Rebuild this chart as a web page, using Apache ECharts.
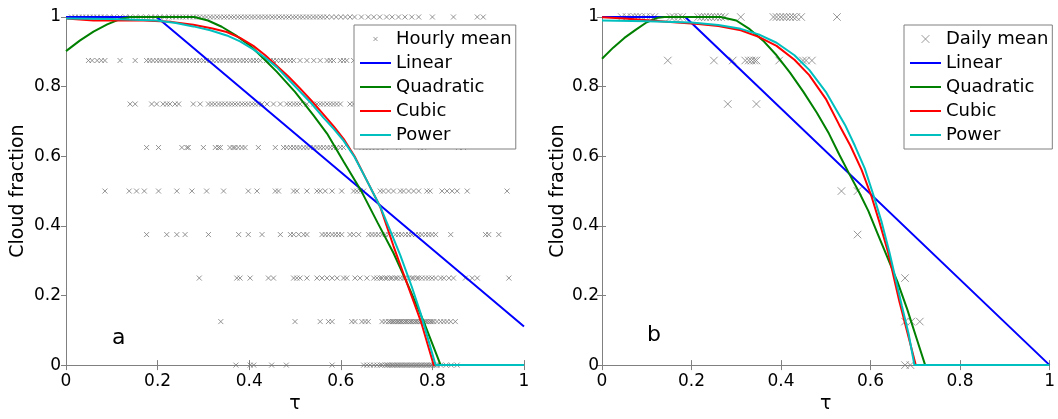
<!DOCTYPE html>
<html>
<head>
<meta charset="utf-8">
<script src="https://cdn.jsdelivr.net/npm/echarts@6/dist/echarts.min.js"></script>
<style>html,body{margin:0;padding:0;background:#fff}#c{width:1058px;height:419px}</style>
</head>
<body>
<div id="c"></div>
<script>
// ---------- data ----------
var tickValues = [0, 0.2, 0.4, 0.6, 0.8, 1];
var cloudLevels = [1, 0.875, 0.75, 0.625, 0.5, 0.375, 0.25, 0.125, 0];

// Panel a: hourly mean, tau positions for each cloud-fraction level
var hourlyTau = [
  [0.012,0.02,0.028,0.036,0.044,0.052,0.06,0.068,0.076,0.084,0.095,0.105,0.118,0.13,0.14,0.152,0.163,0.175,0.186,0.195,0.205,0.215,0.225,0.232,0.24,0.248,0.255,0.262,0.27,0.278,0.285,0.292,0.3,0.307,0.315,0.322,0.33,0.337,0.345,0.352,0.36,0.367,0.375,0.382,0.39,0.397,0.405,0.412,0.42,0.427,0.435,0.442,0.45,0.457,0.465,0.472,0.48,0.487,0.495,0.502,0.51,0.517,0.525,0.532,0.54,0.547,0.555,0.562,0.57,0.58,0.59,0.6,0.61,0.62,0.63,0.645,0.66,0.672,0.685,0.7,0.712,0.726,0.74,0.755,0.77,0.8,0.846,0.898,0.911],
  [0.049,0.057,0.068,0.077,0.085,0.118,0.151,0.176,0.183,0.19,0.198,0.205,0.212,0.22,0.227,0.234,0.242,0.249,0.256,0.263,0.27,0.278,0.285,0.292,0.3,0.307,0.314,0.321,0.329,0.336,0.343,0.351,0.358,0.365,0.372,0.38,0.387,0.394,0.402,0.409,0.416,0.424,0.438,0.446,0.453,0.46,0.468,0.475,0.482,0.49,0.497,0.511,0.526,0.541,0.555,0.57,0.577,0.584,0.599,0.606,0.613,0.628,0.66,0.7,0.75],
  [0.14,0.151,0.187,0.198,0.212,0.22,0.227,0.238,0.246,0.278,0.293,0.311,0.318,0.325,0.333,0.34,0.347,0.355,0.362,0.369,0.376,0.384,0.391,0.398,0.406,0.413,0.42,0.428,0.439,0.453,0.468,0.482,0.489,0.497,0.504,0.511,0.526,0.541,0.548,0.555,0.562,0.57,0.577,0.584,0.591,0.599,0.62,0.628,0.635,0.66,0.7,0.74,0.78],
  [0.176,0.202,0.253,0.264,0.267,0.3,0.326,0.333,0.337,0.358,0.365,0.369,0.376,0.384,0.391,0.42,0.457,0.475,0.482,0.49,0.497,0.504,0.511,0.519,0.526,0.533,0.541,0.548,0.555,0.562,0.57,0.577,0.584,0.591,0.599,0.606,0.646,0.653,0.66,0.668,0.675,0.686,0.697,0.726,0.774,0.781,0.857,0.868],
  [0.085,0.138,0.154,0.171,0.202,0.242,0.275,0.307,0.344,0.398,0.417,0.457,0.464,0.497,0.504,0.526,0.548,0.555,0.566,0.581,0.602,0.628,0.635,0.642,0.65,0.686,0.693,0.704,0.715,0.73,0.737,0.748,0.759,0.77,0.788,0.795,0.821,0.832,0.843,0.854,0.876,0.963],
  [0.176,0.22,0.242,0.26,0.311,0.377,0.398,0.428,0.468,0.49,0.497,0.508,0.519,0.526,0.559,0.566,0.573,0.581,0.588,0.595,0.602,0.62,0.628,0.639,0.661,0.668,0.675,0.682,0.69,0.697,0.704,0.711,0.719,0.726,0.733,0.741,0.748,0.755,0.763,0.77,0.777,0.785,0.792,0.799,0.807,0.84,0.916,0.923,0.945],
  [0.291,0.373,0.38,0.402,0.442,0.453,0.497,0.504,0.511,0.526,0.548,0.559,0.57,0.581,0.592,0.606,0.613,0.631,0.642,0.657,0.672,0.679,0.686,0.69,0.697,0.701,0.708,0.712,0.719,0.723,0.73,0.737,0.741,0.748,0.755,0.759,0.766,0.77,0.777,0.785,0.792,0.799,0.807,0.818,0.825,0.836,0.846,0.872,0.887,0.898,0.967],
  [0.338,0.5,0.555,0.573,0.581,0.624,0.631,0.646,0.653,0.66,0.69,0.697,0.704,0.708,0.712,0.715,0.719,0.723,0.726,0.73,0.733,0.737,0.741,0.744,0.748,0.752,0.755,0.759,0.763,0.766,0.77,0.774,0.777,0.781,0.785,0.788,0.792,0.796,0.799,0.803,0.81,0.818,0.825,0.832,0.84,0.85],
  [0.371,0.402,0.41,0.449,0.481,0.581,0.65,0.657,0.664,0.672,0.679,0.686,0.69,0.697,0.701,0.704,0.708,0.712,0.715,0.719,0.723,0.726,0.73,0.733,0.737,0.741,0.744,0.748,0.752,0.755,0.759,0.763,0.766,0.77,0.774,0.777,0.781,0.785,0.788,0.792,0.796,0.799,0.803,0.807,0.81,0.818,0.83,0.841,0.854]
];

// Panel b: daily mean, tau positions for each level
var dailyTau = [
  [0.044,0.055,0.066,0.073,0.08,0.088,0.098,0.109,0.117,0.153,0.16,0.171,0.179,0.215,0.222,0.23,0.237,0.244,0.252,0.259,0.266,0.274,0.31,0.383,0.39,0.398,0.405,0.412,0.42,0.427,0.434,0.445,0.525],
  [0.147,0.25,0.292,0.32,0.328,0.334,0.34,0.345,0.396,0.449,0.456,0.469],
  [0.281,0.345],
  [],
  [0.535,0.571],
  [0.571],
  [0.677],
  [0.677,0.691,0.71],
  [0.677,0.689]
];

// fitted curves, panel a
var aLinear    = [[0,1],[0.198,1],[1,0.111]];
var aQuadratic = [[0,0.902],[0.03,0.932],[0.06,0.958],[0.09,0.979],[0.118,0.994],[0.14,1],[0.28,1],[0.31,0.99],[0.34,0.972],[0.37,0.948],[0.4,0.92],[0.424,0.89],[0.46,0.843],[0.5,0.785],[0.54,0.718],[0.57,0.665],[0.606,0.585],[0.646,0.497],[0.68,0.41],[0.715,0.322],[0.745,0.235],[0.781,0.125],[0.818,0],[1,0]];
var aCubic     = [[0,0.996],[0.06,0.99],[0.17,0.99],[0.23,0.986],[0.278,0.978],[0.32,0.967],[0.351,0.957],[0.38,0.94],[0.409,0.917],[0.435,0.89],[0.46,0.86],[0.485,0.83],[0.511,0.795],[0.537,0.758],[0.562,0.72],[0.585,0.685],[0.606,0.65],[0.63,0.6],[0.655,0.535],[0.686,0.455],[0.715,0.342],[0.745,0.233],[0.775,0.125],[0.803,0],[1,0]];
var aPower     = [[0,0.996],[0.1,0.994],[0.198,0.99],[0.24,0.983],[0.278,0.973],[0.315,0.962],[0.351,0.947],[0.38,0.93],[0.409,0.907],[0.435,0.883],[0.46,0.856],[0.485,0.822],[0.511,0.786],[0.537,0.75],[0.562,0.711],[0.585,0.678],[0.606,0.645],[0.63,0.598],[0.655,0.535],[0.686,0.455],[0.71,0.38],[0.73,0.315],[0.755,0.225],[0.774,0.15],[0.807,0],[1,0]];

// fitted curves, panel b
var bLinear    = [[0,1],[0.186,1],[1,0]];
var bQuadratic = [[0,0.88],[0.025,0.912],[0.05,0.94],[0.075,0.963],[0.1,0.985],[0.125,0.998],[0.14,1],[0.265,1],[0.3,0.99],[0.33,0.965],[0.36,0.932],[0.39,0.89],[0.42,0.84],[0.45,0.785],[0.48,0.725],[0.507,0.665],[0.53,0.605],[0.551,0.553],[0.575,0.495],[0.595,0.443],[0.615,0.38],[0.631,0.33],[0.66,0.24],[0.682,0.16],[0.702,0.08],[0.722,0],[1,0]];
var bCubic     = [[0,0.999],[0.05,0.996],[0.109,0.99],[0.16,0.985],[0.215,0.98],[0.26,0.974],[0.31,0.962],[0.35,0.943],[0.39,0.917],[0.43,0.877],[0.463,0.833],[0.5,0.765],[0.53,0.69],[0.555,0.63],[0.58,0.561],[0.602,0.485],[0.62,0.41],[0.639,0.325],[0.664,0.185],[0.685,0.08],[0.701,0],[1,0]];
var bPower     = [[0,0.99],[0.1,0.988],[0.2,0.984],[0.26,0.977],[0.31,0.966],[0.35,0.95],[0.39,0.926],[0.43,0.89],[0.463,0.848],[0.5,0.785],[0.543,0.69],[0.565,0.63],[0.587,0.565],[0.606,0.49],[0.625,0.41],[0.642,0.325],[0.67,0.17],[0.685,0.09],[0.698,0],[1,0]];

var seriesNames = ['Linear', 'Quadratic', 'Cubic', 'Power'];
var panelLabels = ['a', 'b'];

// ---------- build ----------
function toPairs(tauLists) {
  var out = [];
  tauLists.forEach(function (list, i) {
    list.forEach(function (t) { out.push([t, cloudLevels[i]]); });
  });
  return out;
}

var FONT = 'DejaVu Sans';
var AXC = '#808080';
var crossPath = 'path://M0,0L10,10M10,0L0,10';
var lineIcon = 'path://M0,0L31,0L31,2L0,2Z';
var colors = {Linear: '#0000ff', Quadratic: '#008000', Cubic: '#ff0000', Power: '#00bfbf'};

function xAxes(gi) {
  return [{
    gridIndex: gi, type: 'value', min: 0, max: 1, interval: 0.2,
    name: 'τ', nameLocation: 'middle', nameGap: 26,
    nameTextStyle: {fontFamily: FONT, fontSize: 19, color: '#000'},
    axisLine: {lineStyle: {color: AXC, width: 1}},
    axisTick: {inside: true, length: 5, lineStyle: {color: AXC}},
    axisLabel: {fontFamily: FONT, fontSize: 17, color: '#000', margin: 8},
    splitLine: {show: false}
  }, {
    gridIndex: gi, type: 'value', min: 0, max: 1, interval: 0.2, position: 'top',
    axisLine: {lineStyle: {color: AXC, width: 1}},
    axisTick: {inside: true, length: 5, lineStyle: {color: AXC}},
    axisLabel: {show: false}, splitLine: {show: false}
  }];
}
function yAxes(gi, tickInside, gap, margin) {
  return [{
    gridIndex: gi, type: 'value', min: 0, max: 1, interval: 0.2,
    name: 'Cloud fraction', nameLocation: 'middle', nameGap: gap,
    nameTextStyle: {fontFamily: FONT, fontSize: 19, color: '#000'},
    axisLine: {lineStyle: {color: AXC, width: 1}},
    axisTick: {inside: tickInside, length: 4, lineStyle: {color: AXC}},
    axisLabel: {fontFamily: FONT, fontSize: 17, color: '#000', margin: margin},
    splitLine: {show: false}
  }, {
    gridIndex: gi, type: 'value', min: 0, max: 1, interval: 0.2, position: 'right',
    axisLine: {lineStyle: {color: AXC, width: 1}},
    axisTick: {inside: true, length: 5, lineStyle: {color: AXC}},
    axisLabel: {show: false}, splitLine: {show: false}
  }];
}

function lineSeries(name, data, xi, yi) {
  return {
    name: name, type: 'line', data: data, xAxisIndex: xi, yAxisIndex: yi,
    symbol: 'none', smooth: false,
    lineStyle: {color: colors[name], width: 2}, itemStyle: {color: colors[name]},
    z: 3
  };
}

var series = [
  {name: 'Hourly mean', type: 'scatter', data: toPairs(hourlyTau), xAxisIndex: 0, yAxisIndex: 0,
   symbol: crossPath, symbolSize: 5,
   itemStyle: {color: 'none', borderColor: '#7a7a7a', borderWidth: 1}, z: 2},
  lineSeries('Linear', aLinear, 0, 0),
  lineSeries('Quadratic', aQuadratic, 0, 0),
  lineSeries('Cubic', aCubic, 0, 0),
  lineSeries('Power', aPower, 0, 0),
  {name: 'Daily mean', type: 'scatter', data: toPairs(dailyTau), xAxisIndex: 2, yAxisIndex: 2,
   symbol: crossPath, symbolSize: 7.5,
   itemStyle: {color: 'none', borderColor: '#808080', borderWidth: 1}, z: 2},
  lineSeries('Linear', bLinear, 2, 2),
  lineSeries('Quadratic', bQuadratic, 2, 2),
  lineSeries('Cubic', bCubic, 2, 2),
  lineSeries('Power', bPower, 2, 2)
];

function legend(left, scatterName, pad) {
  var icon = 'path://M' + (-pad) + ',' + (-pad) + 'M' + (10 + pad) + ',' + (10 + pad) + 'M0,0L10,10M10,0L0,10';
  return {
    orient: 'vertical', left: left, top: 25,
    data: [{name: scatterName, icon: icon, itemStyle: {color: 'none', borderColor: '#808080', borderWidth: 1}}].concat(
      seriesNames.map(function (n) { return {name: n, icon: lineIcon, itemStyle: {color: colors[n], borderWidth: 0}}; })),
    itemWidth: 31, itemHeight: 14, itemGap: 0, itemTextGap: 4,
    padding: [2, 4, 2, 6],
    backgroundColor: '#fff', borderColor: '#808080', borderWidth: 1, borderRadius: 0,
    selectedMode: false,
    textStyle: {fontFamily: FONT, fontSize: 18, color: '#000', lineHeight: 24},
    z: 10
  };
}

var option = {
  animation: false,
  backgroundColor: '#fff',
  grid: [
    {left: 66, top: 17, width: 458, height: 356, show: false},
    {left: 602, top: 17, width: 456, height: 355, show: false}
  ],
  xAxis: xAxes(0).concat(xAxes(1)),
  yAxis: yAxes(0, false, 38, 5).concat(yAxes(1, true, 34, 3)),
  legend: [legend(354, 'Hourly mean', 12), legend(904, 'Daily mean', 4)],
  graphic: [
    {type: 'text', left: 112, top: 327, style: {text: panelLabels[0], font: '22px "DejaVu Sans"', fill: '#000'}},
    {type: 'text', left: 647, top: 324, style: {text: panelLabels[1], font: '22px "DejaVu Sans"', fill: '#000'}}
  ],
  series: series
};

var chart = echarts.init(document.getElementById('c'));
chart.setOption(option);
</script>
</body>
</html>
